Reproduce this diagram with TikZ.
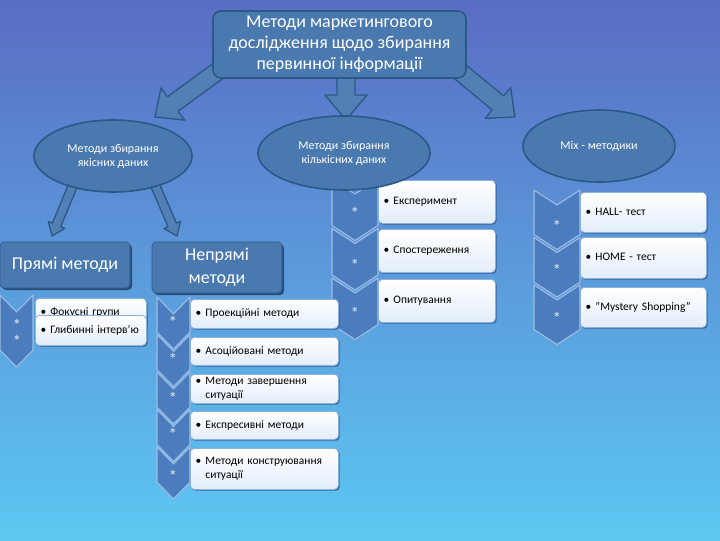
\documentclass[tikz,border=0pt]{standalone}
\usepackage{fontspec}
\setmainfont{Carlito}
\usetikzlibrary{shapes.geometric,calc,shadows}

\definecolor{bgtop}{HTML}{5A6CC4}
\definecolor{bgmid}{HTML}{4A95E2}
\definecolor{bgbot}{HTML}{5CC8F2}
\definecolor{boxblue}{HTML}{4A79B0}
\definecolor{edgeblue}{HTML}{2C5888}
\definecolor{chevblue}{HTML}{4B7DBE}
\definecolor{chevedge}{HTML}{9DBCE4}
\definecolor{itemedge}{HTML}{8FB0D8}
\definecolor{itembot}{HTML}{E2EDF9}
\definecolor{shadeblue}{HTML}{355F96}
\definecolor{starwhite}{HTML}{D6E6F6}

\tikzset{
  topbox/.style={draw=edgeblue, line width=1.2pt, fill=boxblue, rounded corners=6pt,
    text=white, align=center, font=\fontsize{13.5}{15.75}\selectfont,
    minimum width=189.75pt, minimum height=50.25pt, inner sep=2pt},
  ovalbox/.style={ellipse, draw=edgeblue, line width=1.2pt, fill=boxblue, text=white,
    align=center, font=\fontsize{9}{10.5}\selectfont, inner sep=0pt},
  headbox/.style={draw=edgeblue, fill=boxblue, rounded corners=3pt, text=white,
    align=center, font=\fontsize{13.5}{17}\selectfont, inner sep=2pt,
    minimum width=97.5pt,
    drop shadow={shadow xshift=1.5pt,shadow yshift=-1.5pt,fill=edgeblue!80!black,opacity=0.9}},
  item/.style={draw=itemedge, line width=0.6pt, top color=white, bottom color=itembot,
    rounded corners=3pt, anchor=north west, align=left,
    font=\fontsize{8.6}{10}\selectfont, inner xsep=4pt, inner ysep=0pt,
    drop shadow={shadow xshift=1pt,shadow yshift=-1pt,fill=shadeblue,opacity=0.9}},
  chevron/.style={fill=chevblue, draw=chevedge, line width=0.8pt, line join=round},
  starmark/.style={text=starwhite, font=\fontsize{13}{13}\selectfont, inner sep=0pt, yshift=-2.5pt},
  bigarrow/.style={fill=boxblue!95!white, draw=edgeblue, line width=1pt, line join=round},
}

% block arrow from tail #1 to tip #2: half shaft, half head, head length (pt)
\newcommand{\fatarrow}[5]{%
  \path let \p1=($(#2)-(#1)$) in \pgfextra{%
    \pgfmathsetmacro{\fatang}{atan2(\y1,\x1)}%
    \pgfmathsetmacro{\fatlen}{veclen(\x1,\y1)}%
    \xdef\fatang{\fatang}\xdef\fatlen{\fatlen}};
  \draw[bigarrow,shift={(#1)},rotate=\fatang,x=1pt,y=1pt]
    (0,-#3) -- (\fatlen-#5,-#3) -- (\fatlen-#5,-#4) -- (\fatlen,0)
    -- (\fatlen-#5,#4) -- (\fatlen-#5,#3) -- (0,#3) -- cycle;}

% chevron: left x, top y, width, notch depth, side length
\newcommand{\chev}[5]{%
  \draw[chevron] (#1,#2) -- ({#1+#3/2},{#2+#4}) -- ({#1+#3},#2) -- ({#1+#3},{#2+#5})
    -- ({#1+#3/2},{#2+#5+#4}) -- (#1,{#2+#5}) -- cycle;}

\newcommand{\bul}[1]{\begin{tabular}{@{}l@{\hspace{0.35em}}l@{}}\textbullet & #1\end{tabular}}

\begin{document}
\begin{tikzpicture}[x=0.75pt,y=-0.75pt]
\useasboundingbox (0,0) rectangle (720,540);
\shade[top color=bgtop, middle color=bgmid, bottom color=bgbot] (0,0) rectangle (720,540);

% arrows out of the title box
\coordinate (lt0) at (222,68);  \coordinate (lt1) at (155,117);
\coordinate (mt0) at (346,78);  \coordinate (mt1) at (346,120);
\coordinate (rt0) at (458,70);  \coordinate (rt1) at (515,117);
\fatarrow{lt0}{lt1}{6.75}{15}{16.5}
\fatarrow{mt0}{mt1}{6.75}{15.75}{18.75}
\fatarrow{rt0}{rt1}{6.75}{15}{16.5}

\node[topbox] (top) at (339.5,44.5)
  {Методи маркетингового\\дослідження щодо збирання\\первинної інформації};

% quantitative data
\foreach \t in {179,228.5,278} \chev{332}{\t}{46}{15}{46.5};
\foreach \y [count=\i] in {210,262,310} \node[starmark] (qs\i) at (355,\y) {*};
\node[item, text width=79.75pt, minimum height=32.25pt] (e1) at (378,180) {\bul{Експеримент}};
\node[item, text width=79.75pt, minimum height=32.25pt] (e2) at (378,229) {\bul{Спостереження}};
\node[item, text width=79.75pt, minimum height=32.25pt] (e3) at (378,279) {\bul{Опитування}};

% mix methods
\foreach \t in {190,237.5,285} \chev{534}{\t}{46}{15}{44.5};
\foreach \y [count=\i] in {223,267,315} \node[starmark] (ms\i) at (557,\y) {*};
\node[item, text width=86.5pt, minimum height=30pt] (h1) at (580,192) {\bul{HALL- тест}};
\node[item, text width=86.5pt, minimum height=30.75pt] (h2) at (580,237) {\bul{HOME - тест}};
\node[item, text width=86.5pt, minimum height=30pt] (h3) at (580,287) {\bul{"Mystery Shopping"}};

% ellipses
\node[ovalbox, minimum width=129pt, minimum height=55.5pt] (qn) at (344,153)
  {Методи збирання\\кількісних даних};
\node[ovalbox, minimum width=114pt, minimum height=54pt] (mx) at (599,146) {Mix - методики};

% qualitative data
\coordinate (la0) at (76,178);  \coordinate (la1) at (52,236);
\coordinate (ra0) at (152,178); \coordinate (ra1) at (177,236);
\fatarrow{la0}{la1}{3.4}{6.75}{9}
\fatarrow{ra0}{ra1}{3.4}{6.75}{9}
\node[ovalbox, minimum width=118.5pt, minimum height=54pt] (ql) at (113,156)
  {Методи збирання\\якісних даних};

\node[headbox, minimum height=34.5pt] (pr) at (65,265) {Прямі методи};
\node[headbox, minimum height=38.25pt] (npr) at (217,267.5) {Непрямі\\методи};

% direct methods
\chev{0}{295}{33}{17}{55}
\node[starmark] (ds1) at (17,322) {*};
\node[starmark] (ds2) at (17,338) {*};
\node[item, text width=75.25pt, minimum height=22pt] (d1) at (35,298) {\bul{Фокусні групи}};
\node[item, text width=75.25pt, minimum height=22.5pt] (d2) at (35,315) {\bul{Глибинні інтерв’ю}};

% indirect methods
\foreach \t in {297,334.5,372,409.5,447} \chev{157}{\t}{33}{17}{35};
\foreach \y [count=\i] in {319,356,395,431,473} \node[starmark] (ns\i) at (173,\y) {*};
\node[item, text width=103pt, minimum height=21.75pt] (p1) at (190,299) {\bul{Проекційні методи}};
\node[item, text width=103pt, minimum height=21pt] (p2) at (190,337) {\bul{Асоційовані методи}};
\node[item, text width=103pt, minimum height=21.75pt] (p3) at (190,374) {\bul{Методи завершення\\&ситуації}};
\node[item, text width=103pt, minimum height=21pt] (p4) at (190,411) {\bul{Експресивні методи}};
\node[item, text width=103pt, minimum height=30.75pt] (p5) at (190,448) {\bul{Методи конструювання\\&ситуації}};
\end{tikzpicture}
\end{document}
